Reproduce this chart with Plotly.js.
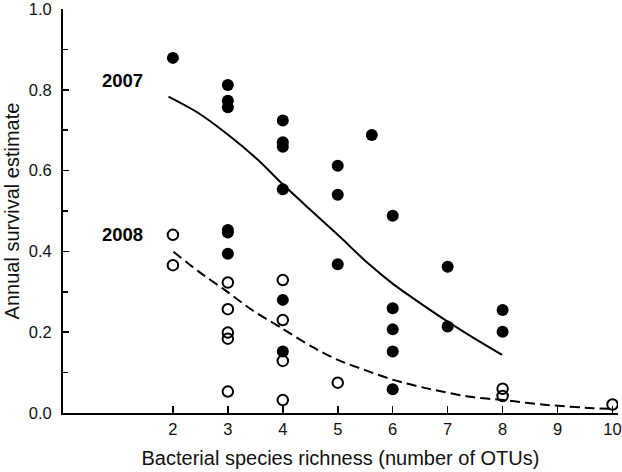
<!DOCTYPE html>
<html>
<head>
<meta charset="utf-8">
<script src="https://cdn.plot.ly/plotly-3.0.1.min.js"></script>
<style>html,body{margin:0;padding:0;background:#fff;}#chart{width:622px;height:472px;}</style>
</head>
<body>
<div id="chart"></div>
<script>
// 2007 observations (filled circles)
var x2007 = [2, 3, 3, 3, 3, 3, 3, 4, 4, 4, 4, 4, 4, 5, 5, 5, 5.62, 6, 6, 6, 6, 6, 7, 7, 8, 8];
var y2007 = [0.879, 0.812, 0.773, 0.757, 0.453, 0.447, 0.394, 0.724, 0.670, 0.659, 0.554, 0.280, 0.152, 0.612, 0.540, 0.368, 0.688, 0.488, 0.259, 0.207, 0.152, 0.059, 0.362, 0.214, 0.255, 0.201];
// 2008 observations (open circles)
var x2008 = [2, 2, 3, 3, 3, 3, 3, 4, 4, 4, 4, 5, 8, 8, 10];
var y2008 = [0.441, 0.366, 0.323, 0.257, 0.199, 0.184, 0.053, 0.329, 0.230, 0.129, 0.032, 0.075, 0.060, 0.042, 0.021];
// fitted curves
var fitX2007 = [1.92, 2.47, 3.01, 3.56, 4.00, 4.50, 5.04, 5.53, 6.01, 6.50, 6.98, 7.47, 7.99];
var fitY2007 = [0.783, 0.742, 0.688, 0.625, 0.566, 0.503, 0.436, 0.373, 0.319, 0.272, 0.228, 0.186, 0.144];
var fitX2008 = [2.01, 2.47, 2.95, 3.44, 3.98, 4.53, 5.01, 5.50, 6.01, 6.62, 7.41, 8.01, 8.80, 9.65, 10.0];
var fitY2008 = [0.399, 0.350, 0.304, 0.255, 0.210, 0.164, 0.131, 0.106, 0.082, 0.061, 0.040, 0.032, 0.020, 0.012, 0.010];
var xTicks = [2, 3, 4, 5, 6, 7, 8, 9, 10];
var yTicks = [0, 0.2, 0.4, 0.6, 0.8, 1.0];
var yTickText = ["0.0", "0.2", "0.4", "0.6", "0.8", "1.0"];
var yearLabels = ["2007", "2008"];

var font = "Liberation Sans, Arial, sans-serif";
var traces = [
  {x: fitX2007, y: fitY2007, mode: "lines", line: {color: "#000", width: 2, shape: "spline", smoothing: 0.8}, hoverinfo: "skip"},
  {x: fitX2008, y: fitY2008, mode: "lines", line: {color: "#000", width: 2, dash: "10px,5px", shape: "spline", smoothing: 0.8}, hoverinfo: "skip"},
  {x: x2007, y: y2007, mode: "markers", marker: {symbol: "circle", size: 12, color: "#000", line: {width: 0}}},
  {x: x2008, y: y2008, mode: "markers", marker: {symbol: "circle-open", size: 10.5, color: "#000", line: {width: 2, color: "#000"}}}
];

var layout = {
  width: 622, height: 472,
  margin: {l: 63, r: 4, t: 9, b: 59},
  showlegend: false,
  paper_bgcolor: "#fff", plot_bgcolor: "#fff",
  font: {family: font, color: "#111"},
  xaxis: {
    range: [0, 10.1], tickvals: xTicks, ticktext: xTicks.map(String),
    ticks: "inside", ticklen: 7, tickwidth: 1.5, tickcolor: "#000",
    showline: true, linecolor: "#000", linewidth: 2, showgrid: false, zeroline: false,
    tickfont: {size: 16.5, family: font, color: "#111"},
    ticklabeloverflow: "allow",
    title: {text: "Bacterial species richness (number of OTUs)", font: {size: 20, family: font, color: "#111"}, standoff: 14}
  },
  yaxis: {
    range: [0, 1.0], tickvals: yTicks, ticktext: yTickText,
    ticks: "inside", ticklen: 6, tickwidth: 1.5, tickcolor: "#000",
    minor: {dtick: 0.1, ticks: "inside", ticklen: 5, tickwidth: 1.5, tickcolor: "#000", showgrid: false},
    showline: true, linecolor: "#000", linewidth: 2, showgrid: false, zeroline: false,
    tickfont: {size: 16.5, family: font, color: "#111"},
    ticklabelstandoff: 6,
    ticklabeloverflow: "allow",
    title: {text: "Annual survival estimate", font: {size: 20, family: font, color: "#111"}, standoff: 4}
  },
  annotations: [
    {x: 1.08, y: 0.824, xref: "x", yref: "y", text: "<b>" + yearLabels[0] + "</b>", showarrow: false, font: {size: 18.5, family: font, color: "#000"}},
    {x: 1.08, y: 0.443, xref: "x", yref: "y", text: "<b>" + yearLabels[1] + "</b>", showarrow: false, font: {size: 18.5, family: font, color: "#000"}}
  ]
};
Plotly.newPlot("chart", traces, layout, {displayModeBar: false, staticPlot: true});
</script>
</body>
</html>
